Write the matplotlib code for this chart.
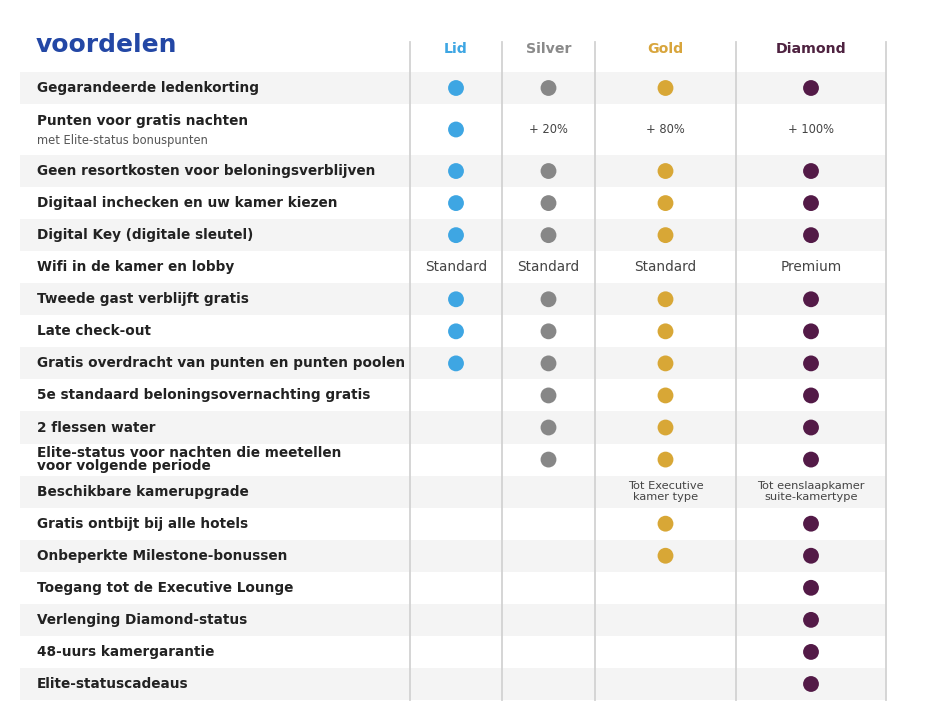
import matplotlib.pyplot as plt
import numpy as np

# benefits (rows) and tier columns
benefits = [
    "Gegarandeerde ledenkorting",
    "Punten voor gratis nachten",
    "Geen resortkosten voor beloningsverblijven",
    "Digitaal inchecken en uw kamer kiezen",
    "Digital Key (digitale sleutel)",
    "Wifi in de kamer en lobby",
    "Tweede gast verblijft gratis",
    "Late check-out",
    "Gratis overdracht van punten en punten poolen",
    "5e standaard beloningsovernachting gratis",
    "2 flessen water",
    "Elite-status voor nachten die meetellen\nvoor volgende periode",
    "Beschikbare kamerupgrade",
    "Gratis ontbijt bij alle hotels",
    "Onbeperkte Milestone-bonussen",
    "Toegang tot de Executive Lounge",
    "Verlenging Diamond-status",
    "48-uurs kamergarantie",
    "Elite-statuscadeaus",
]
subtitles = {1: "met Elite-status bonuspunten"}

tiers = ["Lid", "Silver", "Gold", "Diamond"]

# 1 = included (dot), 0 = not included, text = value shown
lid = [1, 1, 1, 1, 1, "Standard", 1, 1, 1, 0, 0, 0, 0, 0, 0, 0, 0, 0, 0]
silver = [1, "+ 20%", 1, 1, 1, "Standard", 1, 1, 1, 1, 1, 1, 0, 0, 0, 0, 0, 0, 0]
gold = [1, "+ 80%", 1, 1, 1, "Standard", 1, 1, 1, 1, 1, 1,
        "Tot Executive\nkamer type", 1, 1, 0, 0, 0, 0]
diamond = [1, "+ 100%", 1, 1, 1, "Premium", 1, 1, 1, 1, 1, 1,
           "Tot eenslaapkamer\nsuite-kamertype", 1, 1, 1, 1, 1, 1]
values = [lid, silver, gold, diamond]

tier_colors = ["#3ea6e3", "#878787", "#d8a736", "#531a47"]
header_colors = ["#3ea6e3", "#8a8a8a", "#d8a53c", "#4e2240"]

# layout (pixel-like units)
W, H = 925, 721
col_edges = [410, 502, 595, 736, 886]
col_centers = [(a + b) / 2 for a, b in zip(col_edges[:-1], col_edges[1:])]
row_heights = np.array([32, 51] + [32.06] * 17)
row_top = 72 + np.concatenate([[0], np.cumsum(row_heights)[:-1]])
row_mid = row_top + row_heights / 2

fig = plt.figure(figsize=(W / 100, H / 100), dpi=100)
ax = fig.add_axes([0, 0, 1, 1])
ax.set_xlim(0, W)
ax.set_ylim(H, 0)
ax.axis("off")

# alternating row shading
for i in range(len(benefits)):
    if i % 2 == 0:
        ax.add_patch(plt.Rectangle((20, row_top[i]), 866, row_heights[i],
                                   facecolor="#f4f4f4", edgecolor="none", zorder=0))

# column separators
for x in col_edges:
    ax.plot([x, x], [42, row_top[-1] + row_heights[-1]], color="#d2d2d2",
            lw=1.3, zorder=1)

ax.text(36, 44.5, "voordelen", fontsize=18, fontweight="bold", color="#2347a5",
        va="center", ha="left")

for j, t in enumerate(tiers):
    ax.text(col_centers[j], 49, t, fontsize=10.2, fontweight="bold",
            color=header_colors[j], ha="center", va="center")

for i, label in enumerate(benefits):
    if i in subtitles:
        ax.text(37, row_mid[i] - 9, label, fontsize=9.8, fontweight="bold",
                color="#222222", va="center", ha="left")
        ax.text(37, row_mid[i] + 11, subtitles[i], fontsize=8.3, color="#555555",
                va="center", ha="left")
    else:
        ax.text(37, row_mid[i], label, fontsize=9.8, fontweight="bold",
                color="#222222", va="center", ha="left", linespacing=0.9)

for j, col in enumerate(values):
    for i, v in enumerate(col):
        if v == 1:
            ax.scatter(col_centers[j], row_mid[i], s=130, color=tier_colors[j],
                       edgecolors="none", zorder=3)
        elif isinstance(v, str):
            if "\n" in v:
                fs = 8.2
            elif "%" in v:
                fs = 8.3
            else:
                fs = 9.8
            ax.text(col_centers[j], row_mid[i], v, fontsize=fs, color="#444444",
                    ha="center", va="center", linespacing=1.1)

fig.savefig("out.png", dpi=100, facecolor="white")
